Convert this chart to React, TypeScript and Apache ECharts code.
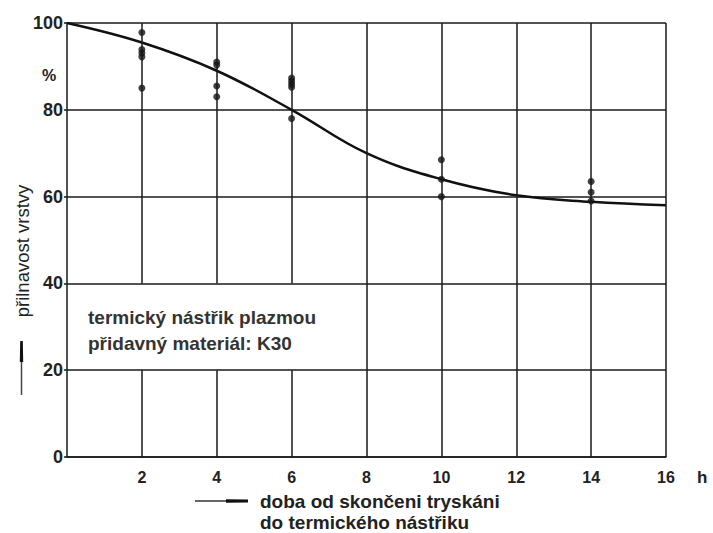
import React, { useEffect, useRef } from "react";
import * as echarts from "echarts";

// smooth trend curve (h, %)
const curveX = [0, 2, 4, 6, 8, 10, 12, 14, 16];
const curveY = [100, 95.5, 89, 80, 70, 64, 60.3, 58.8, 58];

// measured points
const pointsX = [2, 2, 2, 2, 2, 4, 4, 4, 4, 6, 6, 6, 6, 6, 10, 10, 10, 14, 14, 14];
const pointsY = [97.8, 93.9, 93.1, 92.2, 85, 91, 90.3, 85.5, 83, 87.3, 86.6, 85.9, 85.2, 78, 68.5, 64, 60, 63.5, 61, 59];

// vertical grid lines, and the ones broken by the note box
const gridX = [2, 4, 6, 8, 10, 12, 14, 16];
const boxGapX = [2, 4, 6];
const boxGapY = [20, 40];

const xLabel = ["doba od skončeni tryskáni", "do termického nástřiku"];
const yLabel = "přilnavost vrstvy";
const noteLines = ["termický nástřik plazmou", "přidavný materiál: K30"];

const FONT = "'Liberation Sans', Arial, sans-serif";

export default function App() {
  const ref = useRef<HTMLDivElement>(null);
  useEffect(() => {
    document.body.style.margin = "0";
    if (!ref.current) return;
    const chart = echarts.init(ref.current, null, { renderer: "svg" });

    const vLines: any[] = [];
    gridX.forEach((x) => {
      if (boxGapX.includes(x)) {
        vLines.push([{ coord: [x, 0] }, { coord: [x, boxGapY[0]] }]);
        vLines.push([{ coord: [x, boxGapY[1]] }, { coord: [x, 100] }]);
      } else {
        vLines.push([{ coord: [x, 0] }, { coord: [x, 100] }]);
      }
    });

    const lineStyle = { color: "#1a1a1a", width: 1.5 };

    chart.setOption({
      animation: false,
      backgroundColor: "#ffffff",
      grid: { left: 67, right: 47, top: 23, bottom: 76 },
      xAxis: {
        type: "value",
        min: 0,
        max: 16,
        interval: 2,
        axisLine: { show: true, lineStyle },
        axisTick: { show: false },
        splitLine: { show: false },
        axisLabel: {
          margin: 12,
          fontSize: 16,
          fontWeight: "bold",
          fontFamily: FONT,
          color: "#222",
          formatter: (v: number) => (v === 0 ? "" : String(v)),
        },
      },
      yAxis: {
        type: "value",
        min: 0,
        max: 100,
        interval: 20,
        axisLine: { show: true, lineStyle },
        axisTick: { show: true, length: 3, lineStyle },
        splitLine: { show: true, lineStyle },
        axisLabel: {
          margin: 4,
          fontSize: 18,
          fontWeight: "bold",
          fontFamily: FONT,
          color: "#222",
        },
      },
      series: [
        {
          type: "line",
          data: curveX.map((x, i) => [x, curveY[i]]),
          smooth: 0.4,
          symbol: "none",
          lineStyle: { color: "#111", width: 2.5 },
          silent: true,
          markLine: {
            silent: true,
            symbol: ["none", "none"],
            label: { show: false },
            lineStyle: { color: "#1a1a1a", width: 1.5, type: "solid" },
            data: vLines,
          },
        },
        {
          type: "scatter",
          data: pointsX.map((x, i) => [x, pointsY[i]]),
          symbol: "circle",
          symbolSize: 7,
          itemStyle: { color: "#111" },
        },
      ],
      graphic: [
        {
          type: "text",
          left: 42,
          top: 67,
          style: { text: "%", fontSize: 16, fontWeight: "bold", fontFamily: FONT, fill: "#222" },
        },
        {
          type: "text",
          x: 697,
          y: 477,
          style: {
            text: "h",
            fontSize: 17,
            fontWeight: "bold",
            fontFamily: FONT,
            fill: "#222",
            verticalAlign: "middle",
          },
        },
        {
          type: "text",
          x: 22,
          y: 251,
          rotation: Math.PI / 2,
          style: {
            text: yLabel,
            fontSize: 18.5,
            fontFamily: FONT,
            fill: "#222",
            align: "center",
            verticalAlign: "middle",
          },
        },
        {
          type: "line",
          shape: { x1: 21.5, y1: 395, x2: 21.5, y2: 342 },
          style: { stroke: "#444", lineWidth: 1.5 },
        },
        {
          type: "polygon",
          shape: { points: [[19.8, 362], [23.2, 362], [22.8, 341], [20.2, 341]] },
          style: { fill: "#111" },
        },
        {
          type: "line",
          shape: { x1: 195, y1: 501, x2: 248, y2: 501 },
          style: { stroke: "#333", lineWidth: 1.5 },
        },
        {
          type: "polygon",
          shape: { points: [[226, 499.3], [248, 499.6], [248, 502.4], [226, 502.7]] },
          style: { fill: "#111" },
        },
        {
          type: "text",
          x: 260,
          y: 501,
          style: {
            text: xLabel[0],
            fontSize: 19,
            fontWeight: "bold",
            fontFamily: FONT,
            fill: "#222",
            verticalAlign: "middle",
          },
        },
        {
          type: "text",
          x: 260,
          y: 522,
          style: {
            text: xLabel[1],
            fontSize: 19,
            fontWeight: "bold",
            fontFamily: FONT,
            fill: "#222",
            verticalAlign: "middle",
          },
        },
        {
          type: "text",
          x: 88,
          y: 317,
          style: {
            text: noteLines[0],
            fontSize: 19,
            fontWeight: "bold",
            fontFamily: FONT,
            fill: "#333",
            verticalAlign: "middle",
          },
        },
        {
          type: "text",
          x: 88,
          y: 343,
          style: {
            text: noteLines[1],
            fontSize: 19,
            fontWeight: "bold",
            fontFamily: FONT,
            fill: "#333",
            verticalAlign: "middle",
          },
        },
      ],
    });
    return () => chart.dispose();
  }, []);
  return <div ref={ref} style={{ width: 713, height: 533 }} />;
}
